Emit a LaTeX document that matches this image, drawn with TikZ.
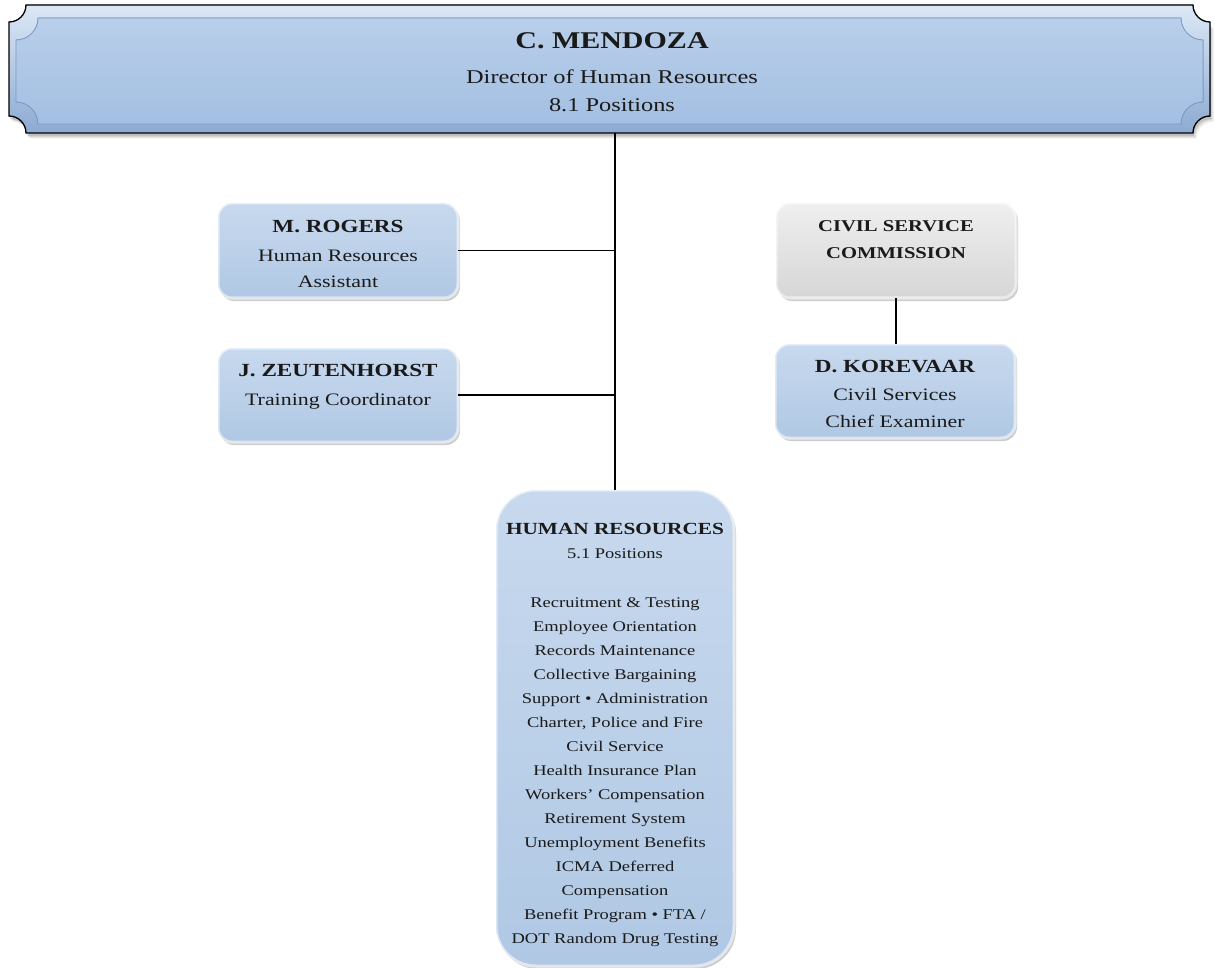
\documentclass[tikz,border=0pt]{standalone}
\usepackage{fontspec}
\setmainfont{Liberation Serif}[FakeStretch=1.25]
\usetikzlibrary{shadows,calc}

\definecolor{cardtop}{HTML}{C8D9EE}
\definecolor{cardbot}{HTML}{B0C8E4}
\definecolor{greytop}{HTML}{EFEFEF}
\definecolor{greybot}{HTML}{D6D6D6}
\definecolor{plaqueedge}{HTML}{7C9CC4}
\definecolor{plaquehi}{HTML}{DCE8F6}
\definecolor{plaquelo}{HTML}{8CAAD2}
\definecolor{facetop}{HTML}{B9CFEA}
\definecolor{facebot}{HTML}{A3BFE2}
\definecolor{ink}{HTML}{1A1A1A}

% plaque outline with concave (scooped) corners: left, top, right, bottom, radius
\newcommand{\plaquepath}[5]{%
  (#1+#5,#2) -- (#3-#5,#2)
  .. controls (#3-#5,#2+0.552*#5) and (#3-0.552*#5,#2+#5) .. (#3,#2+#5)
  -- (#3,#4-#5)
  .. controls (#3-0.552*#5,#4-#5) and (#3-#5,#4-0.552*#5) .. (#3-#5,#4)
  -- (#1+#5,#4)
  .. controls (#1+#5,#4-0.552*#5) and (#1+0.552*#5,#4-#5) .. (#1,#4-#5)
  -- (#1,#2+#5)
  .. controls (#1+0.552*#5,#2+#5) and (#1+#5,#2+0.552*#5) .. (#1+#5,#2) -- cycle}

\begin{document}
\begin{tikzpicture}[x=1pt,y=-1pt,
  card/.style={rounded corners=14pt, top color=cardtop, bottom color=cardbot,
    drop shadow={shadow xshift=2pt, shadow yshift=-3pt, opacity=0.28, fill=black!70},
    postaction={draw=white, draw opacity=0.55, line width=3pt},
    inner sep=0pt, minimum width=240pt, minimum height=95pt},
  greycard/.style={card, top color=greytop, bottom color=greybot},
  cardtext/.style={align=center, inner sep=0pt, text=ink, font=\fontsize{17.5}{27}\selectfont},
  link/.style={draw=black, line width=1.6pt}]

\useasboundingbox (0,0) rectangle (1215,968);

% ---- director plaque ----
\foreach \k/\o in {1/0.10,2/0.08,3/0.06,4/0.04}
  \fill[black, opacity=\o] \plaquepath{9+\k}{5+3+\k}{1210+\k}{133+2+\k}{17};
\fill[top color=plaquehi, bottom color=plaquelo, draw=black, line width=1.3pt]
  \plaquepath{9}{5}{1210}{133}{17};
\fill[top color=facetop, bottom color=facebot, draw=plaqueedge, line width=0.8pt]
  \plaquepath{16}{18}{1203}{124}{22};

\node[minimum width=1200pt, minimum height=122pt, inner sep=0pt, align=center, text=ink,
      font=\fontsize{19.5}{28}\selectfont]
  (director) at (612,72)
  {{\bfseries\fontsize{24}{28}\selectfont C. MENDOZA}\\[7pt]
   Director of Human Resources\\
   8.1 Positions};

% ---- boxes ----
\node[card] (rogers) at (338,250.5) {};
\node[cardtext] (rogers-text) at ($(rogers.center)+(0,3)$)
  {{\bfseries\fontsize{18.5}{27}\selectfont M. ROGERS}\\[2pt]
   Human Resources\\[-1pt]
   Assistant};

\node[card, minimum height=94pt] (zeut) at (338,395) {};
\node[cardtext] (zeut-text) at ($(zeut.center)+(0,-8)$)
  {{\bfseries\fontsize{18.5}{27}\selectfont J. ZEUTENHORST}\\[2pt]
   Training Coordinator};

\node[greycard] (csc) at (896,250.5) {};
\node[cardtext, font=\fontsize{16.5}{27}\selectfont\bfseries] (csc-text)
  at ($(csc.center)+(0,-11)$)
  {CIVIL SERVICE\\ COMMISSION};

\node[card, minimum height=94pt] (korevaar) at (895,391) {};
\node[cardtext] (korevaar-text) at ($(korevaar.center)+(0,3)$)
  {{\bfseries\fontsize{18.5}{27}\selectfont D. KOREVAAR}\\[1pt]
   Civil Services\\
   Chief Examiner};

\node[card, rounded corners=40pt, minimum width=238pt, minimum height=476pt] (hr) at (615,728) {};
\node[cardtext, font=\fontsize{14.8}{24}\selectfont] (hr-text) at ($(hr.center)+(0,7)$)
  {{\bfseries\fontsize{17}{24}\selectfont HUMAN RESOURCES}\\
   5.1 Positions\\[25pt]
   Recruitment \& Testing\\
   Employee Orientation\\
   Records Maintenance\\
   Collective Bargaining\\
   Support \textbullet{} Administration\\
   Charter, Police and Fire\\
   Civil Service\\
   Health Insurance Plan\\
   Workers’ Compensation\\
   Retirement System\\
   Unemployment Benefits\\
   ICMA Deferred\\
   Compensation\\
   Benefit Program \textbullet{} FTA /\\
   DOT Random Drug Testing};

% ---- connectors ----
\draw[link] (hr.north |- director.south) -- (hr.north);
\draw[link] (rogers.east) -- (rogers.east -| hr.north);
\draw[link] (zeut.east) -- (zeut.east -| hr.north);
\draw[link] (csc.south) -- (csc.south |- korevaar.north);

\end{tikzpicture}
\end{document}
